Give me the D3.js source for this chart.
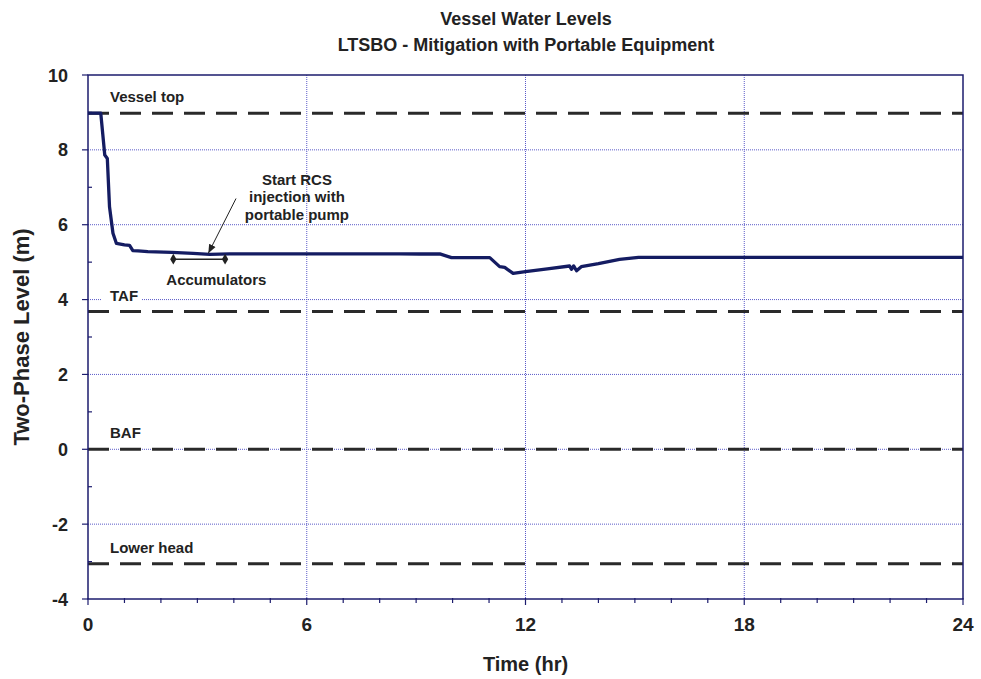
<!DOCTYPE html>
<html>
<head>
<meta charset="utf-8">
<script src="https://cdn.jsdelivr.net/npm/d3@7"></script>
<style>
  body { margin: 0; background: #fff; }
  text { font-family: "Liberation Sans", Arial, sans-serif; font-weight: bold; fill: #222; }
</style>
</head>
<body>
<svg id="chart" width="981" height="679"></svg>
<script>
// Two-phase level trace
const timeHr = [0, 0.35, 0.46, 0.53, 0.59, 0.685, 0.78, 1.0, 1.14, 1.23, 1.37, 1.64, 2.3, 2.88, 3.34, 3.89, 5, 7, 8.55, 9.1, 9.65, 9.97, 10.5, 11.02, 11.29, 11.43, 11.66, 12.0, 12.6, 13.21, 13.26, 13.32, 13.4, 13.53, 14.0, 14.58, 15.1, 16, 18, 20, 22, 24];
const levelM = [8.98, 8.98, 7.86, 7.77, 6.48, 5.77, 5.50, 5.46, 5.45, 5.31, 5.30, 5.28, 5.26, 5.235, 5.21, 5.22, 5.22, 5.22, 5.22, 5.218, 5.22, 5.12, 5.12, 5.12, 4.88, 4.86, 4.70, 4.745, 4.82, 4.897, 4.81, 4.90, 4.77, 4.88, 4.96, 5.075, 5.13, 5.13, 5.13, 5.13, 5.13, 5.13];

// reference elevations (dashed lines)
const refNames = ["Vessel top", "TAF", "BAF", "Lower head"];
const refLevels = [8.98, 3.68, 0, -3.06];

// accumulator injection window
const accumWindow = [2.34, 3.76];
const accumLevel = 5.08;
const pumpStart = [3.3, 5.21];

const xTicks = [0, 6, 12, 18, 24];
const yTicks = [-4, -2, 0, 2, 4, 6, 8, 10];

const svg = d3.select("#chart");
const margin = { top: 75, right: 18, bottom: 80, left: 88 };
const width = 981 - margin.left - margin.right;
const height = 679 - margin.top - margin.bottom;

const x = d3.scaleLinear().domain([0, 24]).range([0, width]);
const y = d3.scaleLinear().domain([-4, 10]).range([height, 0]);

const g = svg.append("g").attr("transform", `translate(${margin.left},${margin.top})`);

// grid
g.append("g").selectAll("line.gx")
  .data(xTicks.slice(1, -1))
  .join("line")
  .attr("x1", d => x(d)).attr("x2", d => x(d))
  .attr("y1", 0).attr("y2", height)
  .attr("stroke", "#5a5ac8").attr("stroke-width", 1).attr("stroke-dasharray", "1,1");
g.append("g").selectAll("line.gy")
  .data(yTicks.slice(1, -1))
  .join("line")
  .attr("x1", 0).attr("x2", width)
  .attr("y1", d => y(d)).attr("y2", d => y(d))
  .attr("stroke", "#5a5ac8").attr("stroke-width", 1).attr("stroke-dasharray", "1,1");

// reference dashed lines
g.append("g").selectAll("line")
  .data(refLevels)
  .join("line")
  .attr("x1", 0).attr("x2", width)
  .attr("y1", d => y(d)).attr("y2", d => y(d))
  .attr("stroke", "#2a2a2a").attr("stroke-width", 3).attr("stroke-dasharray", "21,11");

// reference labels with white backing
const labels = g.append("g").selectAll("g")
  .data(refNames)
  .join("g")
  .attr("transform", (d, i) => `translate(22,${y(refLevels[i]) - 11})`);
labels.append("rect")
  .attr("x", -8).attr("y", -13)
  .attr("width", d => d.length * 9 + 12).attr("height", 16)
  .attr("fill", "#fff");
labels.append("text")
  .attr("font-size", 15)
  .text(d => d);

// frame
g.append("rect").attr("width", width).attr("height", height)
  .attr("fill", "none").attr("stroke", "#1c1c6e").attr("stroke-width", 1.5);

// y ticks
const yAxis = g.append("g");
yAxis.selectAll("line.maj").data(yTicks).join("line")
  .attr("x1", -6).attr("x2", 0)
  .attr("y1", d => y(d)).attr("y2", d => y(d))
  .attr("stroke", "#1c1c6e").attr("stroke-width", 1.2);
yAxis.selectAll("line.min").data(d3.range(-3, 10, 2)).join("line")
  .attr("x1", 0).attr("x2", 4)
  .attr("y1", d => y(d)).attr("y2", d => y(d))
  .attr("stroke", "#1c1c6e").attr("stroke-width", 1.2);
yAxis.selectAll("text").data(yTicks).join("text")
  .attr("x", -20).attr("y", d => y(d) + 6.5)
  .attr("text-anchor", "end").attr("font-size", 18)
  .text(d => d);

// x ticks
const xAxis = g.append("g").attr("transform", `translate(0,${height})`);
xAxis.selectAll("line.min").data(d3.range(0, 25)).join("line")
  .attr("x1", d => x(d)).attr("x2", d => x(d))
  .attr("y1", -1).attr("y2", d => d % 6 === 0 ? 6 : 4)
  .attr("stroke", "#1c1c6e").attr("stroke-width", 1.2);
xAxis.selectAll("text").data(xTicks).join("text")
  .attr("x", d => x(d)).attr("y", 32)
  .attr("text-anchor", "middle").attr("font-size", 19)
  .text(d => d);

// level curve
const line = d3.line().x((d, i) => x(timeHr[i])).y(d => y(d));
g.append("path").datum(levelM)
  .attr("d", line)
  .attr("fill", "none").attr("stroke", "#141c62").attr("stroke-width", 3.3)
  .attr("stroke-linejoin", "round");

// accumulators bracket
g.append("line")
  .attr("x1", x(accumWindow[0])).attr("x2", x(accumWindow[1]))
  .attr("y1", y(accumLevel)).attr("y2", y(accumLevel))
  .attr("stroke", "#222").attr("stroke-width", 1.5);
g.selectAll("path.dia").data(accumWindow).join("path")
  .attr("d", d3.symbol(d3.symbolDiamond, 34))
  .attr("transform", d => `translate(${x(d)},${y(accumLevel)})`)
  .attr("fill", "#222");
g.append("text")
  .attr("x", x(3.52)).attr("y", y(accumLevel) + 26)
  .attr("text-anchor", "middle").attr("font-size", 15)
  .text("Accumulators");

// pump annotation
svg.append("defs").append("marker")
  .attr("id", "arr").attr("viewBox", "0 0 10 10")
  .attr("refX", 10).attr("refY", 5)
  .attr("markerWidth", 9).attr("markerHeight", 9)
  .attr("orient", "auto")
  .append("path").attr("d", "M0,1 L10,5 L0,9 Z").attr("fill", "#222");
g.append("line")
  .attr("x1", x(4.06)).attr("y1", y(6.7))
  .attr("x2", x(pumpStart[0])).attr("y2", y(pumpStart[1]) - 1)
  .attr("stroke", "#222").attr("stroke-width", 1)
  .attr("marker-end", "url(#arr)");
const ann = g.append("text").attr("text-anchor", "middle").attr("font-size", 15);
["Start RCS", "injection with", "portable pump"].forEach((t, i) => {
  ann.append("tspan").attr("x", x(5.73)).attr("y", y(7.07) + i * 17.5).text(t);
});

// titles
svg.append("text").attr("x", 526).attr("y", 25).attr("text-anchor", "middle")
  .attr("font-size", 18).text("Vessel Water Levels");
svg.append("text").attr("x", 526).attr("y", 51).attr("text-anchor", "middle")
  .attr("font-size", 18).text("LTSBO - Mitigation with Portable Equipment");
svg.append("text").attr("x", margin.left + width / 2).attr("y", 671)
  .attr("text-anchor", "middle").attr("font-size", 20).text("Time (hr)");
svg.append("text")
  .attr("transform", `translate(29,${margin.top + height / 2}) rotate(-90)`)
  .attr("text-anchor", "middle").attr("font-size", 22).text("Two-Phase Level (m)");
</script>
</body>
</html>
